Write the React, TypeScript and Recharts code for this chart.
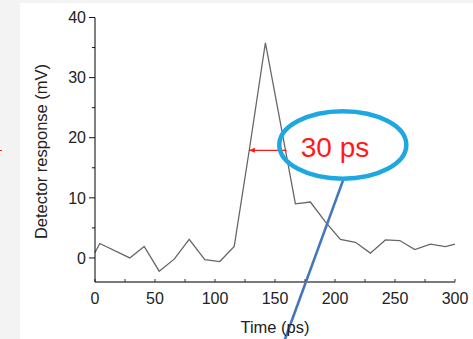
import {
    LineChart,
    Line,
    XAxis,
    YAxis,
    ReferenceLine,
    ReferenceDot,
} from "recharts";

// time (ps) and detector response (mV)
const times = [0, 4, 29, 41, 53.5, 66, 78.5, 91.5, 104, 116, 129, 142, 154, 167, 179.5, 192, 204.5, 217, 229.5, 242, 254, 266.5, 279.5, 292, 300];
const response = [0.9, 2.4, 0, 1.9, -2.2, -0.2, 3.1, -0.3, -0.6, 1.9, 18.5, 35.8, 23, 9.0, 9.3, 6.0, 3.1, 2.6, 0.8, 3.0, 2.9, 1.4, 2.3, 1.9, 2.3];

const xTicks = [0, 25, 50, 75, 100, 125, 150, 175, 200, 225, 250, 275, 300];
const yTicks = [0, 5, 10, 15, 20, 25, 30, 35, 40];

const fwhmLabel = "30 ps";
const fwhmLevel = 17.9;
const fwhmFrom = 128.3;
const fwhmTo = 159.7;

const data = times.map((t, i) => ({ t, v: response[i] }));

const FONT = "Liberation Sans, Arial, sans-serif";

const LeftTick = (props: any) => {
    const { x, y, payload } = props;
    const major = payload.value % 10 === 0;
    return (
        <g>
            <line x1={x - (major ? 6 : 3)} x2={x} y1={y} y2={y} stroke="#111" strokeWidth={1} />
            {major && (
                <text x={x - 9} y={y} dy="0.355em" textAnchor="end" fontSize={16} fontFamily={FONT} fill="#222">
                    {payload.value}
                </text>
            )}
        </g>
    );
};

const Arrow = (props: any) => {
    const { x1, y1, x2, y2 } = props;
    const left = Math.min(x1, x2);
    return (
        <g>
            <line x1={x1} y1={y1} x2={x2} y2={y2} stroke="#ff1a1a" strokeWidth={1.2} />
            <polygon points={`${left},${y1} ${left + 6},${y1 - 2.5} ${left + 6},${y1 + 2.5}`} fill="#ff1a1a" />
        </g>
    );
};

const Callout = (props: any) => {
    const { cx, cy } = props;
    return (
        <g>
            <ellipse cx={cx} cy={cy} rx={63.5} ry={33.7} fill="none" stroke="#1ea8e2" strokeWidth={4.5} />
            <text x={cx - 42} y={cy + 11.7} fontSize={28} fontFamily={FONT} fill="#ff1a1a">
                {fwhmLabel}
            </text>
        </g>
    );
};

export default function App() {
    return (
        <div style={{ position: "fixed", left: 0, top: 0, width: 473, height: 339, background: "#f3f3f3" }}>
            <div style={{ position: "absolute", left: 20, top: 3, right: 0, bottom: 0, background: "#fff" }} />
            <div style={{ position: "absolute", left: 0, top: 150, width: 2, height: 1, background: "#ff2020" }} />
            <div style={{ position: "absolute", left: 0, top: 0 }}>
                <LineChart
                    width={473}
                    height={339}
                    data={data}
                    margin={{ top: 17.5, right: 18, bottom: 0, left: 0 }}
                >
                    <XAxis
                        xAxisId="b"
                        dataKey="t"
                        type="number"
                        domain={[0, 300]}
                        ticks={xTicks}
                        interval={0}
                        height={57}
                        tickFormatter={(v: number) => (v % 50 === 0 ? String(v) : "")}
                        axisLine={{ stroke: "#7a7a7a", strokeWidth: 2 }}
                        tickLine={{ stroke: "#333" }}
                        tickSize={-3}
                        tickMargin={14}
                        tick={{ fontSize: 16, fontFamily: FONT, fill: "#222" }}
                        label={{ value: "Time (ps)", position: "insideBottom", offset: 6, fontSize: 16.5, fontFamily: FONT, fill: "#222" }}
                    />
                    <XAxis
                        xAxisId="top"
                        orientation="top"
                        type="number"
                        domain={[0, 300]}
                        ticks={xTicks}
                        interval={0}
                        height={0}
                        tickFormatter={() => ""}
                        axisLine={{ stroke: "#7a7a7a", strokeWidth: 2 }}
                        tickLine={{ stroke: "#333" }}
                        tickSize={-3}
                    />
                    <YAxis
                        yAxisId="l"
                        type="number"
                        domain={[-4, 40]}
                        allowDataOverflow
                        ticks={yTicks}
                        interval={0}
                        width={95}
                        axisLine={{ stroke: "#000", strokeWidth: 1 }}
                        tickLine={false}
                        tickSize={0}
                        tickMargin={0}
                        tick={<LeftTick />}
                        label={{
                            content: () => (
                                <text
                                    x={47}
                                    y={151.5}
                                    transform="rotate(-90 47 151.5)"
                                    textAnchor="middle"
                                    fontSize={16.5}
                                    fontFamily={FONT}
                                    fill="#222"
                                >
                                    Detector response (mV)
                                </text>
                            ),
                        }}
                    />
                    <YAxis
                        yAxisId="r"
                        orientation="right"
                        type="number"
                        domain={[-4, 40]}
                        ticks={yTicks}
                        interval={0}
                        width={0}
                        tickFormatter={() => ""}
                        axisLine={{ stroke: "#7a7a7a", strokeWidth: 2 }}
                        tickLine={{ stroke: "#333" }}
                        tickSize={-3}
                    />

                    <Line
                        xAxisId="b"
                        yAxisId="l"
                        dataKey="v"
                        type="linear"
                        stroke="#666"
                        strokeWidth={1.3}
                        dot={false}
                        isAnimationActive={false}
                    />

                    <ReferenceLine
                        xAxisId="b"
                        yAxisId="l"
                        segment={[{ x: fwhmFrom, y: fwhmLevel }, { x: fwhmTo, y: fwhmLevel }]}
                        shape={<Arrow />}
                        ifOverflow="visible"
                    />
                    <ReferenceLine
                        xAxisId="b"
                        yAxisId="l"
                        segment={[{ x: 206.7, y: 12.9 }, { x: 157.8, y: -13.8 }]}
                        stroke="#4377bd"
                        strokeWidth={2.6}
                        ifOverflow="visible"
                    />
                    <ReferenceDot
                        xAxisId="b"
                        yAxisId="l"
                        x={206.5}
                        y={18.8}
                        shape={<Callout />}
                        ifOverflow="visible"
                    />
                </LineChart>
            </div>
        </div>
    );
}
